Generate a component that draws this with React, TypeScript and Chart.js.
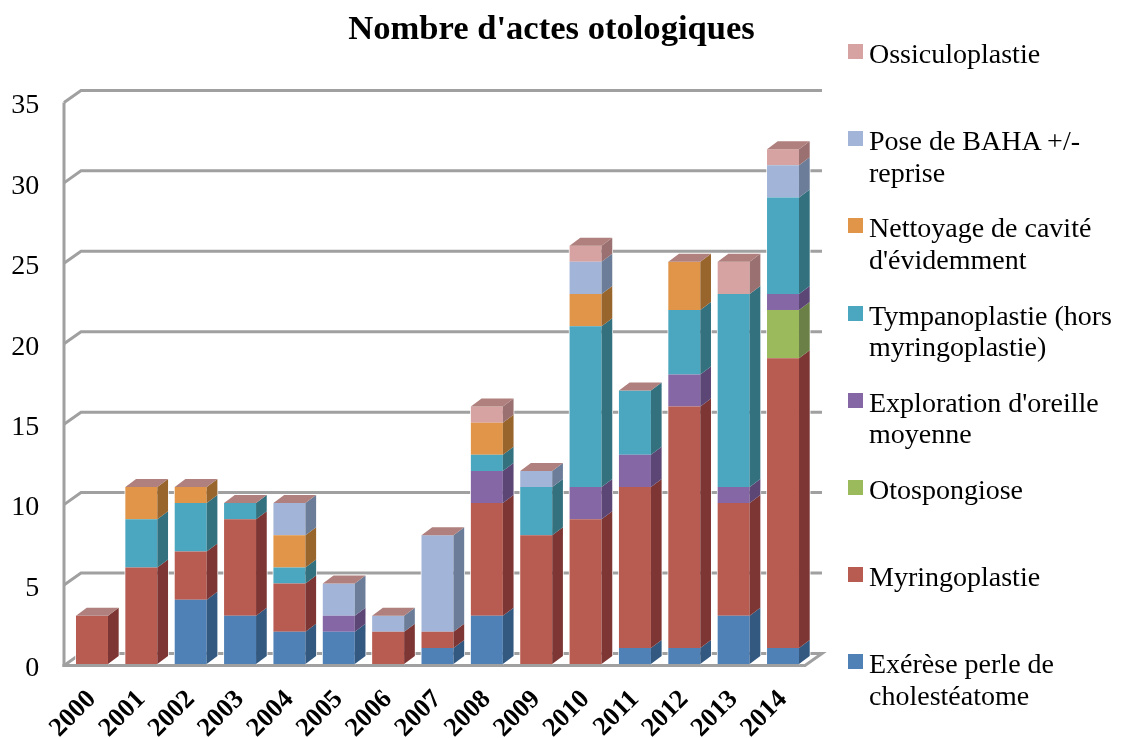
import React, { useEffect, useRef } from "react";
import { Chart, registerables } from "chart.js";

Chart.register(...registerables);

const years = ["2000","2001","2002","2003","2004","2005","2006","2007","2008","2009","2010","2011","2012","2013","2014"];
const exerese =        [0,0,4,3,2,2,0,1,3,0,0,1,1,3,1];
const myringoplastie = [3,6,3,6,3,0,2,1,7,8,9,10,15,7,18];
const otospongiose =   [0,0,0,0,0,0,0,0,0,0,0,0,0,0,3];
const exploration =    [0,0,0,0,0,1,0,0,2,0,2,2,2,1,1];
const tympanoplastie = [0,3,3,1,1,0,0,0,1,3,10,4,4,12,6];
const nettoyage =      [0,2,1,0,2,0,0,0,2,0,2,0,3,0,0];
const baha =           [0,0,0,0,2,2,1,6,0,1,2,0,0,0,2];
const ossiculo =       [0,0,0,0,0,0,0,0,1,0,1,0,0,2,1];

const names = [
  ["Exérèse perle de", "cholestéatome"],
  ["Myringoplastie"],
  ["Otospongiose"],
  ["Exploration d'oreille", "moyenne"],
  ["Tympanoplastie (hors", "myringoplastie)"],
  ["Nettoyage de cavité", "d'évidemment"],
  ["Pose de BAHA +/-", "reprise"],
  ["Ossiculoplastie"],
];
const series = [exerese, myringoplastie, otospongiose, exploration, tympanoplastie, nettoyage, baha, ossiculo];
const faceColors = ["#5081B6","#B85B50","#9ABA5C","#8467A4","#4BA7BF","#E09549","#A2B5D8","#D6A3A2"];
const sideColors = ["#345980","#7D3633","#6A8047","#5C4675","#33717F","#98652D","#6C7D99","#9A7170"];
const topColor = "#AF807D";
const gridColor = "#A0A0A0";
const FONT = "'Liberation Serif', serif";

const DX = 10.7, DY = 8;       // bar depth
const WX = 17, WY = 12;        // wall depth

const depthPlugin = {
  id: "depth",
  beforeDatasetsDraw(chart: any) {
    const { ctx, scales } = chart;
    const y = scales.y, x = scales.x;
    const left = x.left - 3.3, right = x.right - 2.7;
    ctx.save();
    ctx.strokeStyle = gridColor;
    ctx.lineWidth = 3;
    ctx.lineJoin = "miter";
    y.ticks.forEach((t: any) => {
      const p = y.getPixelForValue(t.value);
      ctx.beginPath();
      ctx.moveTo(left, p + 1.5);
      ctx.lineTo(left + WX, p + 1.5 - WY);
      ctx.lineTo(right + WX, p + 1.5 - WY);
      if (t.value === 0) {
        ctx.lineTo(right, p + 1.5);
        ctx.lineTo(left - 1.5, p + 1.5);
      }
      ctx.stroke();
    });
    ctx.beginPath();
    ctx.moveTo(left, y.getPixelForValue(35) + 1.5);
    ctx.lineTo(left, y.getPixelForValue(0) + 3);
    ctx.stroke();
    ctx.strokeStyle = "rgba(255,255,255,0.95)";
    ctx.lineWidth = 1.5;
    years.forEach((_, i) => {
      let e0: any = null, e1: any = null;
      series.forEach((s, d) => {
        if (s[i] > 0) {
          const el = chart.getDatasetMeta(d).data[i];
          if (!e0) e0 = el;
          e1 = el;
        }
      });
      if (!e0) return;
      const l = e1.x - e1.width / 2, r = e1.x + e1.width / 2;
      ctx.beginPath();
      ctx.moveTo(l, e0.base);
      ctx.lineTo(l, e1.y);
      ctx.lineTo(l + DX, e1.y - DY);
      ctx.lineTo(r + DX, e1.y - DY);
      ctx.lineTo(r + DX, e0.base - DY);
      ctx.lineTo(r, e0.base);
      ctx.stroke();
    });
    ctx.restore();
  },
  afterDatasetsDraw(chart: any) {
    const { ctx } = chart;
    ctx.save();
    years.forEach((_, i) => {
      let top: any = null;
      series.forEach((s, d) => {
        if (s[i] <= 0) return;
        const el = chart.getDatasetMeta(d).data[i];
        const r = el.x + el.width / 2;
        ctx.fillStyle = sideColors[d];
        ctx.beginPath();
        ctx.moveTo(r, el.y);
        ctx.lineTo(r + DX, el.y - DY);
        ctx.lineTo(r + DX, el.base - DY);
        ctx.lineTo(r, el.base);
        ctx.closePath();
        ctx.fill();
        top = el;
      });
      if (top) {
        const l = top.x - top.width / 2, r = top.x + top.width / 2;
        ctx.fillStyle = topColor;
        ctx.beginPath();
        ctx.moveTo(l, top.y);
        ctx.lineTo(l + DX, top.y - DY);
        ctx.lineTo(r + DX, top.y - DY);
        ctx.lineTo(r, top.y);
        ctx.closePath();
        ctx.fill();
      }
    });
    ctx.restore();
  },
};

export default function App() {
  const ref = useRef<HTMLCanvasElement>(null);
  useEffect(() => {
    const chart = new Chart(ref.current as HTMLCanvasElement, {
      type: "bar",
      data: {
        labels: years,
        datasets: series.map((s, d) => ({
          label: names[d].join(" "),
          data: s,
          backgroundColor: faceColors[d],
          borderWidth: 0,
          categoryPercentage: 1,
          barPercentage: 0.648,
        })),
      },
      plugins: [depthPlugin],
      options: {
        responsive: false,
        animation: false,
        layout: { padding: { left: 0, right: 0, top: 9, bottom: 0 } },
        plugins: {
          legend: { display: false },
          tooltip: { enabled: false },
          title: {
            display: true,
            text: "Nombre d'actes otologiques",
            color: "#000",
            font: { family: FONT, size: 34.6, weight: "bold" },
            padding: { top: 0, bottom: 50.4 },
          },
        },
        scales: {
          x: {
            stacked: true,
            grid: { display: false, drawTicks: false },
            border: { display: false },
            afterFit(scale: any) { scale.height = 74; },
            ticks: {
              color: "#000",
              minRotation: 45,
              maxRotation: 45,
              autoSkip: false,
              padding: 20,
              font: { family: FONT, size: 26.5, weight: "bold" },
            },
          },
          y: {
            stacked: true,
            min: 0,
            max: 35,
            grid: { display: false, drawTicks: false },
            border: { display: false },
            afterFit(scale: any) { scale.width = 67.3; },
            ticks: {
              color: "#000",
              stepSize: 5,
              padding: 28,
              labelOffset: 5,
              font: { family: FONT, size: 28 },
            },
          },
          legendGutter: {
            position: "right",
            grid: { display: false, drawTicks: false },
            border: { display: false },
            ticks: { display: false },
            afterFit(scale: any) { scale.width = 295.3; },
          },
        },
      } as any,
    });
    return () => chart.destroy();
  }, []);

  const legend = names.map((n, d) => ({ n, d })).reverse();
  return (
    <div style={{ position: "absolute", left: 0, top: 0, width: 1126, height: 738, background: "#fff", overflow: "hidden" }}>
      <canvas ref={ref} width={1103} height={738} style={{ display: "block", position: "absolute", left: 0, top: 0 }} />
      {legend.map(({ n, d }, i) => (
        <React.Fragment key={d}>
          <div style={{ position: "absolute", left: 848, top: 44 + i * 87.2, width: 15, height: 15, background: faceColors[d] }} />
          <div style={{ position: "absolute", left: 869, top: 38 + i * 87.2, font: `28px/31.5px ${FONT}`, color: "#000", whiteSpace: "nowrap" }}>
            {n.map((line) => <div key={line}>{line}</div>)}
          </div>
        </React.Fragment>
      ))}
    </div>
  );
}
